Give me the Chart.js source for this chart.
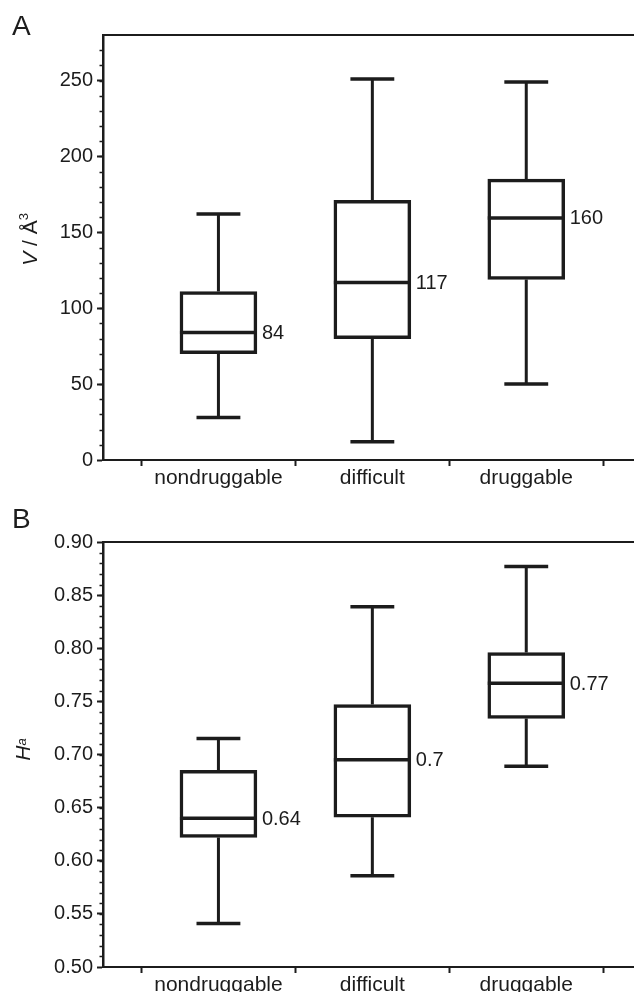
<!DOCTYPE html>
<html>
<head>
<meta charset="utf-8">
<script src="https://cdn.jsdelivr.net/npm/chart.js@4.4.1/dist/chart.umd.min.js"></script>
<style>
  html, body { margin: 0; padding: 0; background: #fff; overflow: hidden; }
  .panel { position: absolute; left: 0; width: 634px; }
  #wrapA { top: 0; height: 495px; }
  #wrapB { top: 495px; height: 507px; }
</style>
</head>
<body>
<div class="panel" id="wrapA"><canvas id="chartA"></canvas></div>
<div class="panel" id="wrapB"><canvas id="chartB"></canvas></div>
<script>
const categories = ['nondruggable', 'difficult', 'druggable'];

// panel A: pocket volume V / Å³
const volMin = [28, 12, 50];
const volQ1 = [70, 80, 119];
const volMedian = [84, 117, 159.5];
const volQ3 = [111, 171, 185];
const volMax = [162, 251, 249];
const volMedianLabels = ['84', '117', '160'];
const volTicks = [0, 50, 100, 150, 200, 250];

// panel B: hydrophobicity Ha
const haMin = [0.541, 0.586, 0.689];
const haQ1 = [0.622, 0.641, 0.734];
const haMedian = [0.640, 0.695, 0.767];
const haQ3 = [0.685, 0.747, 0.796];
const haMax = [0.715, 0.839, 0.877];
const haMedianLabels = ['0.64', '0.7', '0.77'];
const haTicks = [0.50, 0.55, 0.60, 0.65, 0.70, 0.75, 0.80, 0.85, 0.90];

const INK = '#1c1c1c';
const FONT = "'Liberation Sans', Arial, Helvetica, sans-serif";

// x ticks: marks at the category borders, labels at the centres
const xTickValues = [];
categories.forEach((c, i) => { xTickValues.push(i + 0.5, i + 1); });
xTickValues.push(categories.length + 0.5);

// whiskers, medians, value labels, minor ticks, frame top, titles
const boxExtras = {
  id: 'boxExtras',
  afterDatasetsDraw(chart, args, opts) {
    const ctx = chart.ctx;
    const y = chart.scales.y;
    const meta = chart.getDatasetMeta(0);
    ctx.save();
    ctx.strokeStyle = INK;
    ctx.lineCap = 'butt';
    meta.data.forEach((el, i) => {
      const half = el.width / 2;
      const cap = half * 0.57;
      const yQ1 = y.getPixelForValue(opts.q1[i]);
      const yQ3 = y.getPixelForValue(opts.q3[i]);
      const yLo = y.getPixelForValue(opts.lo[i]);
      const yHi = y.getPixelForValue(opts.hi[i]);
      const yMed = y.getPixelForValue(opts.median[i]);
      ctx.lineWidth = 3;
      ctx.beginPath();
      ctx.moveTo(el.x, yQ3); ctx.lineTo(el.x, yHi);
      ctx.moveTo(el.x, yQ1); ctx.lineTo(el.x, yLo);
      ctx.stroke();
      ctx.lineWidth = 3.5;
      ctx.beginPath();
      ctx.moveTo(el.x - cap, yHi); ctx.lineTo(el.x + cap, yHi);
      ctx.moveTo(el.x - cap, yLo); ctx.lineTo(el.x + cap, yLo);
      ctx.moveTo(el.x - half, yMed); ctx.lineTo(el.x + half, yMed);
      ctx.stroke();
      ctx.fillStyle = INK;
      ctx.font = '20px ' + FONT;
      ctx.textAlign = 'left';
      ctx.textBaseline = 'middle';
      ctx.fillText(opts.labels[i], el.x + half + 5, yMed + 1);
    });
    ctx.restore();
  },
  afterDraw(chart, args, opts) {
    const ctx = chart.ctx;
    const area = chart.chartArea;
    const y = chart.scales.y;
    ctx.save();
    ctx.strokeStyle = INK;
    // frame top
    ctx.lineWidth = 2;
    ctx.beginPath();
    ctx.moveTo(area.left, area.top);
    ctx.lineTo(area.right, area.top);
    ctx.stroke();
    // minor ticks
    ctx.lineWidth = 1.5;
    ctx.beginPath();
    const n = Math.round((y.max - y.min) / opts.minorStep);
    for (let k = 1; k < n; k++) {
      const v = y.min + k * opts.minorStep;
      const py = Math.round(y.getPixelForValue(v)) + 0.5;
      ctx.moveTo(area.left - 3.5, py);
      ctx.lineTo(area.left, py);
    }
    ctx.stroke();
    // panel letter
    ctx.fillStyle = INK;
    ctx.textBaseline = 'alphabetic';
    ctx.textAlign = 'left';
    ctx.font = '28px ' + FONT;
    ctx.fillText(opts.letter, 12, opts.letterY);
    // rotated axis title with italic parts
    const cy = (area.top + area.bottom) / 2 + opts.titleShift;
    ctx.translate(opts.titleX, cy);
    ctx.rotate(-Math.PI / 2);
    let w = 0;
    opts.title.forEach(p => { ctx.font = p.font; w += ctx.measureText(p.text).width; });
    let x = -w / 2;
    opts.title.forEach(p => {
      ctx.font = p.font;
      ctx.fillText(p.text, x, p.dy || 0);
      x += ctx.measureText(p.text).width;
    });
    ctx.restore();
  }
};

function makeChart(id, cfg) {
  const boxData = categories.map((c, i) => ({ x: i + 1, y: [cfg.q1[i], cfg.q3[i]] }));
  return new Chart(document.getElementById(id), {
    type: 'bar',
    data: {
      datasets: [{
        data: boxData,
        backgroundColor: '#ffffff',
        borderColor: INK,
        borderWidth: 3.5,
        borderSkipped: false,
        barPercentage: 1,
        categoryPercentage: 1
      }]
    },
    options: {
      responsive: true,
      maintainAspectRatio: false,
      animation: false,
      layout: { padding: { top: cfg.padTop, left: 0, right: 0, bottom: 0 } },
      plugins: {
        legend: { display: false },
        tooltip: { enabled: false },
        boxExtras: {
          q1: cfg.q1, q3: cfg.q3, lo: cfg.lo, hi: cfg.hi, median: cfg.median,
          labels: cfg.labels, minorStep: cfg.minorStep,
          letter: cfg.letter, letterY: cfg.letterY,
          title: cfg.title, titleX: cfg.titleX, titleShift: cfg.titleShift
        }
      },
      scales: {
        x: {
          type: 'linear',
          min: 0.25,
          max: 3.7,
          offset: false,
          afterBuildTicks: s => { s.ticks = xTickValues.map(v => ({ value: v })); },
          afterFit: s => { s.height = 35; },
          ticks: {
            autoSkip: false,
            maxRotation: 0,
            padding: 0,
            color: INK,
            font: { family: FONT, size: 21 },
            callback: v => Number.isInteger(v) ? categories[v - 1] : ''
          },
          grid: {
            offset: false,
            drawOnChartArea: false,
            tickLength: 6,
            tickWidth: 2,
            tickColor: c => (c.tick && !Number.isInteger(c.tick.value)) ? INK : 'rgba(0,0,0,0)'
          },
          border: { color: INK, width: 2 }
        },
        y: {
          type: 'linear',
          min: cfg.yMin,
          max: cfg.yMax,
          afterBuildTicks: s => { s.ticks = cfg.ticks.map(v => ({ value: v })); },
          afterFit: s => { s.width = 103; },
          ticks: {
            padding: 4,
            color: INK,
            font: { family: FONT, size: 20 },
            callback: cfg.fmt
          },
          grid: { drawOnChartArea: false, tickLength: 6, tickWidth: 2, tickColor: INK },
          border: { color: INK, width: 2.5 }
        }
      }
    },
    plugins: [boxExtras]
  });
}

makeChart('chartA', {
  q1: volQ1, q3: volQ3, lo: volMin, hi: volMax, median: volMedian,
  labels: volMedianLabels, ticks: volTicks, yMin: 0, yMax: 280, minorStep: 10,
  fmt: v => String(v), padTop: 35,
  letter: 'A', letterY: 35,
  titleX: 37, titleShift: -8,
  title: [
    { text: 'V', font: 'italic 21px ' + FONT },
    { text: ' / Å', font: '21px ' + FONT },
    { text: '3', font: '13px ' + FONT, dy: -9 }
  ]
});

makeChart('chartB', {
  q1: haQ1, q3: haQ3, lo: haMin, hi: haMax, median: haMedian,
  labels: haMedianLabels, ticks: haTicks, yMin: 0.5, yMax: 0.9, minorStep: 0.01,
  fmt: v => v.toFixed(2), padTop: 47,
  letter: 'B', letterY: 33,
  titleX: 30, titleShift: -5,
  title: [
    { text: 'H', font: 'italic 21px ' + FONT },
    { text: 'a', font: 'italic 13px ' + FONT, dy: -4 }
  ]
});
</script>
</body>
</html>
